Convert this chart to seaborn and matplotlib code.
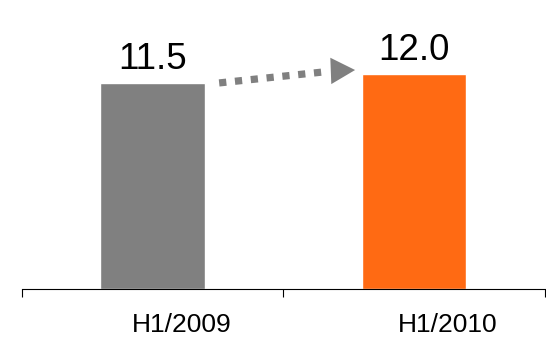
import seaborn as sns
import numpy as np
from matplotlib import pyplot as plt
import pandas as pd

# data
periods = ['H1/2009', 'H1/2010']
values = [11.5, 12.0]
value_labels = ['11.5', '12.0']
colors = ['#808080', '#FF6A13']

sns.set_theme(style="white")
plt.rcParams['font.family'] = ['Liberation Sans', 'DejaVu Sans']

df = pd.DataFrame({'period': periods, 'value': values})

fig = plt.figure(figsize=(5.46, 3.37), dpi=100)
ax = fig.add_axes([0.0403, 0.1424, 0.9577, 0.8576])

sns.barplot(x='period', y='value', hue='period', data=df, palette=colors,
            saturation=1, width=0.4, legend=False, ax=ax)

ax.set_xlim(-0.5, 1.5)
ax.set_ylim(0, 16.1)

# value labels over the bars
for i, (v, lab) in enumerate(zip(values, value_labels)):
    ax.text(i, v + 0.78, lab, ha='center', va='baseline', fontsize=26.5, color='black')

# dotted growth arrow between the bars
ax.plot([0.254, 0.652], [11.48, 12.09], color='#808080', lw=5.2,
        linestyle=(0, (1, 1.2)), dash_capstyle='butt', solid_capstyle='butt')
ax.annotate('', xy=(0.774, 12.2), xytext=(0.682, 12.15),
            arrowprops=dict(arrowstyle='-|>,head_length=1.75,head_width=0.95',
                            color='#808080', lw=0, shrinkA=0, shrinkB=0,
                            mutation_scale=10))

# axis styling
sns.despine(ax=ax, left=True, top=True, right=True)
ax.spines['bottom'].set_color('black')
ax.spines['bottom'].set_linewidth(0.8)
ax.set_yticks([])
ax.set_xticks([0.11, 1.13])
ax.set_xticklabels(periods, fontsize=19, color='black')
ax.set_xticks([-0.5, 0.5, 1.5], minor=True)
ax.tick_params(axis='x', which='major', length=0, pad=17.3)
ax.tick_params(axis='x', which='minor', length=5.8, width=0.8, color='black',
               direction='out', bottom=True)
ax.set_xlabel('')
ax.set_ylabel('')
ax.grid(False)

fig.savefig('out.png', dpi=100)
